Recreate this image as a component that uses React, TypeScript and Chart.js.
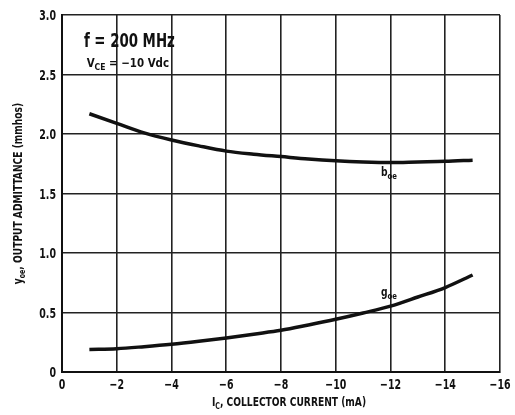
import React, { useEffect, useRef } from "react";
import { Chart, registerables } from "chart.js";

Chart.register(...registerables);

const currents = [-1, -2, -3, -4, -5, -6, -7, -8, -9, -10, -11, -12, -13, -14, -15];
const boeValues = [2.17, 2.09, 2.01, 1.95, 1.9, 1.856, 1.83, 1.81, 1.79, 1.775, 1.765, 1.76, 1.765, 1.77, 1.78];
const goeValues = [0.19, 0.196, 0.213, 0.233, 0.258, 0.286, 0.318, 0.35, 0.395, 0.443, 0.496, 0.553, 0.63, 0.71, 0.815];
const xTicks = [0, -2, -4, -6, -8, -10, -12, -14, -16];
const yTicks = [0, 0.5, 1.0, 1.5, 2.0, 2.5, 3.0];

const FONT = "'DejaVu Sans Condensed', 'Liberation Sans Narrow', 'Roboto', sans-serif";

type Part = { t: string; sub?: boolean };

function drawRich(
  ctx: CanvasRenderingContext2D,
  parts: Part[],
  x: number,
  y: number,
  size: number,
  align: "left" | "center" | "right",
  squeeze: number
) {
  const mainFont = `bold ${size}px ${FONT}`;
  const subFont = `bold ${Math.round(size * 0.72)}px ${FONT}`;
  let total = 0;
  for (const p of parts) {
    ctx.font = p.sub ? subFont : mainFont;
    total += ctx.measureText(p.t).width;
  }
  total *= squeeze;
  let cx = align === "center" ? x - total / 2 : align === "right" ? x - total : x;
  ctx.save();
  ctx.textAlign = "left";
  ctx.textBaseline = "alphabetic";
  ctx.translate(cx, y);
  ctx.scale(squeeze, 1);
  let px = 0;
  for (const p of parts) {
    ctx.font = p.sub ? subFont : mainFont;
    ctx.fillText(p.t, px, p.sub ? size * 0.25 : 0);
    px += ctx.measureText(p.t).width;
  }
  ctx.restore();
}

const textPlugin = {
  id: "textPlugin",
  afterDraw(chart: any) {
    const ctx = chart.ctx as CanvasRenderingContext2D;
    const xs = chart.scales.x;
    const ys = chart.scales.y;
    const area = chart.chartArea;
    ctx.save();
    ctx.fillStyle = "#111";
    // tick labels
    for (const v of xTicks) {
      const label = v === 0 ? "0" : "−" + Math.abs(v);
      drawRich(ctx, [{ t: label }], xs.getPixelForValue(v), area.bottom + 17, 14, "center", 0.75);
    }
    for (const v of yTicks) {
      const label = v === 0 ? "0" : v.toFixed(1);
      drawRich(ctx, [{ t: label }], area.left - 6, ys.getPixelForValue(v) + 5, 14, "right", 0.75);
    }
    // annotations
    drawRich(ctx, [{ t: "f = 200 MHz" }], xs.getPixelForValue(-0.8), ys.getPixelForValue(2.73), 19, "left", 0.78);
    drawRich(ctx, [{ t: "V" }, { t: "CE", sub: true }, { t: " = −10 Vdc" }], xs.getPixelForValue(-0.9), ys.getPixelForValue(2.56), 12, "left", 0.95);
    drawRich(ctx, [{ t: "b" }, { t: "oe", sub: true }], xs.getPixelForValue(-11.65), ys.getPixelForValue(1.65), 12, "left", 0.85);
    drawRich(ctx, [{ t: "g" }, { t: "oe", sub: true }], xs.getPixelForValue(-11.65), ys.getPixelForValue(0.64), 12, "left", 0.85);
    // x title
    drawRich(ctx, [{ t: "I" }, { t: "C", sub: true }, { t: ", COLLECTOR CURRENT (mA)" }], (area.left + area.right) / 2 + 8, 406, 13, "center", 0.78);
    // y title
    ctx.translate(22, (area.top + area.bottom) / 2);
    ctx.rotate(-Math.PI / 2);
    drawRich(ctx, [{ t: "y" }, { t: "oe", sub: true }, { t: ", OUTPUT ADMITTANCE (mmhos)" }], 0, 0, 13, "center", 0.78);
    ctx.restore();
  },
};

export default function App() {
  const ref = useRef<HTMLCanvasElement>(null);
  useEffect(() => {
    if (!ref.current) return;
    const chart = new Chart(ref.current, {
      type: "line",
      data: {
        datasets: [
          {
            label: "boe",
            data: currents.map((c, i) => ({ x: c, y: boeValues[i] })),
            borderColor: "#111",
            borderWidth: 3.5,
            pointRadius: 0,
            cubicInterpolationMode: "monotone",
          },
          {
            label: "goe",
            data: currents.map((c, i) => ({ x: c, y: goeValues[i] })),
            borderColor: "#111",
            borderWidth: 3.5,
            pointRadius: 0,
            cubicInterpolationMode: "monotone",
          },
        ],
      },
      options: {
        animation: false,
        responsive: false,
        layout: { padding: { top: 15, right: 15, left: 0, bottom: 0 } },
        plugins: { legend: { display: false }, tooltip: { enabled: false } },
        scales: {
          x: {
            type: "linear",
            min: -16,
            max: 0,
            reverse: true,
            afterBuildTicks: (s: any) => {
              s.ticks = xTicks.map((v) => ({ value: v }));
            },
            afterFit: (s: any) => {
              s.height = 43;
              s.paddingLeft = 0;
              s.paddingRight = 0;
            },
            ticks: { display: false },
            grid: { color: "#222", lineWidth: 1.6, drawTicks: false },
            border: { color: "#111", width: 2 },
          },
          y: {
            type: "linear",
            min: 0,
            max: 3,
            afterBuildTicks: (s: any) => {
              s.ticks = yTicks.map((v) => ({ value: v }));
            },
            afterFit: (s: any) => {
              s.width = 62;
              s.paddingTop = 0;
              s.paddingBottom = 0;
            },
            ticks: { display: false },
            grid: { color: "#222", lineWidth: 1.6, drawTicks: false },
            border: { color: "#111", width: 2 },
          },
        },
      },
      plugins: [textPlugin],
    } as any);
    return () => chart.destroy();
  }, []);
  return (
    <div style={{ position: "fixed", left: 0, top: 0, width: 515, height: 415, background: "#fff" }}>
      <canvas ref={ref} width={515} height={415} style={{ width: 515, height: 415 }} />
    </div>
  );
}
